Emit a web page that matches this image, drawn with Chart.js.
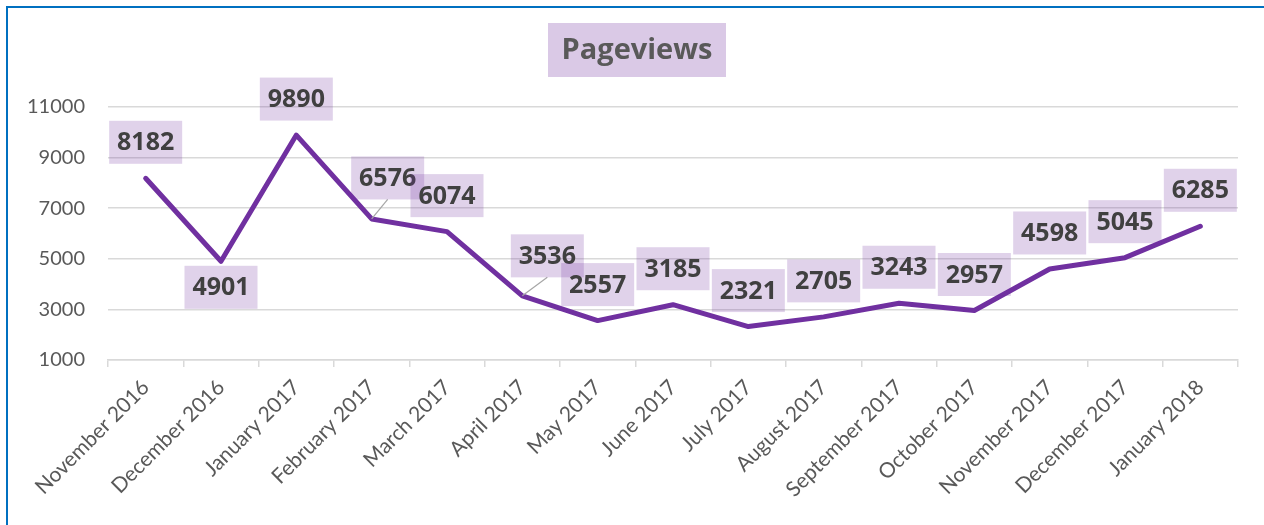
<!DOCTYPE html>
<html lang="en">
<head>
    <meta charset="UTF-8">
    <title>Pageviews</title>
    <script src="https://cdn.jsdelivr.net/npm/chart.js@4.4.1/dist/chart.umd.min.js"></script>
    <style>
        html, body {
            margin: 0;
            padding: 0;
            width: 1264px;
            height: 525px;
            overflow: hidden;
            background: #fff;
        }
        .frame {
            position: absolute;
            left: 6px;
            top: 6px;
            width: 1400px;
            height: 700px;
            border-left: 2px solid #0070C0;
            border-top: 2px solid #0070C0;
        }
        .wrap {
            position: absolute;
            left: 0;
            top: 0;
            width: 1264px;
            height: 525px;
        }
    </style>
</head>
<body>
    <div class="frame"></div>
    <div class="wrap">
        <canvas id="chart" width="1264" height="525"></canvas>
    </div>

    <script>
        const months = [
            'November 2016', 'December 2016', 'January 2017', 'February 2017', 'March 2017',
            'April 2017', 'May 2017', 'June 2017', 'July 2017', 'August 2017',
            'September 2017', 'October 2017', 'November 2017', 'December 2017', 'January 2018'
        ];
        const pageviews = [8182, 4901, 9890, 6576, 6074, 3536, 2557, 3185, 2321, 2705, 3243, 2957, 4598, 5045, 6285];
        const yTicks = [1000, 3000, 5000, 7000, 9000, 11000];

        const FONT = 'Lato, "Open Sans", sans-serif';
        const BOLD = '"Open Sans", Lato, sans-serif';

        // label placement, roughly like Excel's "best fit"
        const labelShift = {
            1: { dx: 0, dy: 26 },
            3: { dx: 16, dy: -41, leader: true },
            5: { dx: 25, dy: -40, leader: true }
        };

        const boxLabels = {
            id: 'boxLabels',
            afterDatasetsDraw(chart) {
                const ctx = chart.ctx;
                const meta = chart.getDatasetMeta(0);
                const w = 73, h = 43;
                ctx.save();
                meta.data.forEach((pt, i) => {
                    const s = labelShift[i] || { dx: 0, dy: -36 };
                    const cx = pt.x + s.dx;
                    const cy = pt.y + s.dy;
                    if (s.leader) {
                        ctx.strokeStyle = '#A6A6A6';
                        ctx.lineWidth = 1.2;
                        ctx.beginPath();
                        ctx.moveTo(pt.x, pt.y);
                        ctx.lineTo(cx, cy + h / 2);
                        ctx.stroke();
                    }
                    ctx.fillStyle = 'rgba(112, 48, 160, 0.22)';
                    ctx.fillRect(cx - w / 2, cy - h / 2, w, h);
                    ctx.fillStyle = '#404040';
                    ctx.font = 'bold 25px ' + BOLD;
                    ctx.textAlign = 'center';
                    ctx.textBaseline = 'middle';
                    ctx.fillText(String(pageviews[i]), cx, cy + 1);
                });
                ctx.restore();
            }
        };

        const boxTitle = {
            id: 'boxTitle',
            afterDraw(chart) {
                const ctx = chart.ctx;
                ctx.save();
                ctx.fillStyle = 'rgba(112, 48, 160, 0.26)';
                ctx.fillRect(548, 23, 178, 54);
                ctx.fillStyle = '#595959';
                ctx.font = 'bold 29px ' + BOLD;
                ctx.textAlign = 'center';
                ctx.textBaseline = 'middle';
                ctx.fillText('Pageviews', 637, 51);
                ctx.restore();
            }
        };

        new Chart(document.getElementById('chart'), {
            type: 'line',
            data: {
                labels: months,
                datasets: [{
                    label: 'Pageviews',
                    data: pageviews,
                    borderColor: '#7030A0',
                    borderWidth: 5,
                    borderCapStyle: 'round',
                    borderJoinStyle: 'round',
                    pointRadius: 0,
                    tension: 0,
                    fill: false
                }]
            },
            options: {
                responsive: false,
                animation: false,
                layout: {
                    padding: { left: 20, top: 107, right: 26, bottom: 0 }
                },
                plugins: {
                    legend: { display: false },
                    title: { display: false },
                    tooltip: { enabled: false }
                },
                scales: {
                    x: {
                        offset: true,
                        afterFit: s => { s.height = 165; },
                        grid: {
                            offset: true,
                            drawOnChartArea: false,
                            drawTicks: true,
                            tickLength: 7,
                            color: '#D9D9D9',
                            lineWidth: 1.5
                        },
                        border: { color: '#D9D9D9', width: 1.5 },
                        ticks: {
                            minRotation: 45,
                            maxRotation: 45,
                            autoSkip: false,
                            padding: 8,
                            color: '#595959',
                            font: { family: FONT, size: 21 }
                        }
                    },
                    y: {
                        min: 1000,
                        max: 11000,
                        afterFit: s => { s.width = 88; },
                        afterBuildTicks: s => { s.ticks = yTicks.map(v => ({ value: v })); },
                        grid: {
                            color: '#D9D9D9',
                            lineWidth: 1.5,
                            drawTicks: false
                        },
                        border: { display: false },
                        ticks: {
                            padding: 23,
                            color: '#595959',
                            font: { family: FONT, size: 20 },
                            callback: v => String(v)
                        }
                    }
                }
            },
            plugins: [boxLabels, boxTitle]
        });
    </script>
</body>
</html>
